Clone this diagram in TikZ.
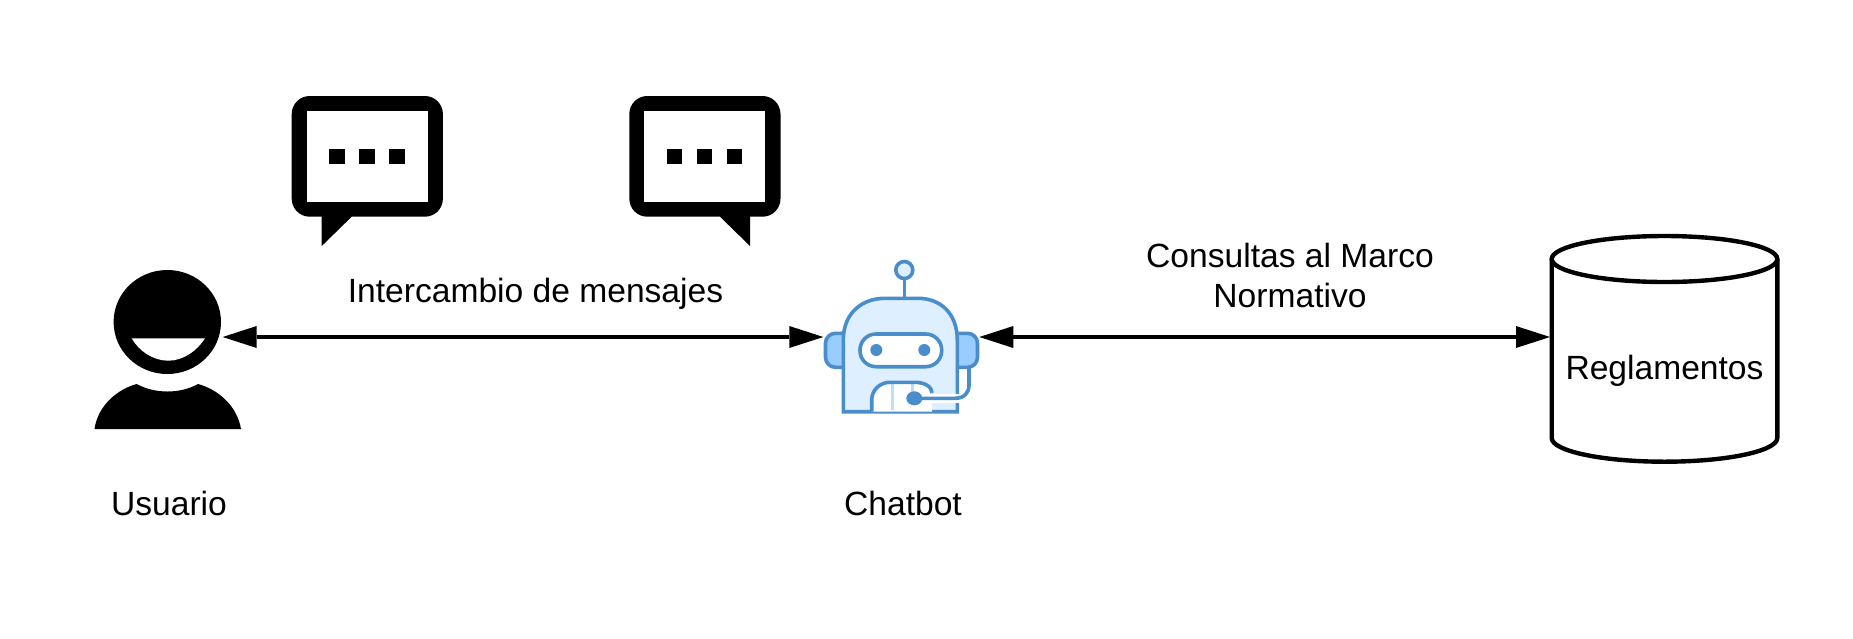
\documentclass[tikz,border=0pt]{standalone}
\usepackage{fontspec}
\setmainfont{Liberation Sans}
\usetikzlibrary{arrows.meta}
\definecolor{botline}{HTML}{4A8DCB}
\definecolor{botfill}{HTML}{DEEFFF}
\definecolor{botear}{HTML}{99CCFF}
\definecolor{botrib}{HTML}{BBDDFF}
\tikzset{
  legenda/.style={font=\fontsize{16.8}{20}\selectfont, inner sep=0pt, align=center},
  marco/.style={inner sep=0pt, outer sep=0pt, minimum height=10pt},
  enlace/.style={line width=2.2pt, {Triangle[length=17pt,width=11pt,line width=0pt]}-{Triangle[length=17pt,width=11pt,line width=0pt]}},
  linhabot/.style={draw=botline, line width=1.8pt},
}
\begin{document}
\begin{tikzpicture}[x=0.5pt,y=-0.5pt]
  \useasboundingbox (0,0) rectangle (1853,638);
  % usuario
  \fill (167.3,322) ellipse (53.7 and 52);
  \fill[white] (131.7,338.3) -- (205,338.3) .. controls (197,351) and (183,360.7) .. (168.3,360.7) .. controls (153,360.7) and (139,351) .. (131.7,338.3) -- cycle;
  \fill (94.5,429) .. controls (98,405) and (118,389) .. (136.7,384) .. controls (155,394) and (180,394) .. (198,384) .. controls (217,389) and (237,405) .. (241,429) -- cycle;
  \node[marco, minimum width=55.4pt] (usuario) at (167.3,337) {};
  % burbujas
  \foreach \bx/\tipa/\tipb/\tipc in {291.7/321.7/321.7/351.7, 629.3/720/750/750}{
    \begin{scope}
      \fill[rounded corners=9pt] (\bx,96) rectangle ++(151.2,120.7);
      \fill[white] (\bx+15,111) rectangle ++(121,90.7);
      \fill (\tipa,215) -- (\tipa,216.7) -- (\tipb,246) -- (\tipc,216.7) -- (\tipc,215) -- cycle;
      \foreach \d in {37.6,67.6,97.6}
        \fill (\bx+\d,148.7) rectangle ++(15.4,15.4);
    \end{scope}
  }
  % chatbot
  \draw[linhabot] (904.3,279) -- (904.3,298.3);
  \draw[linhabot, fill=botfill] (904.3,270) circle (8.5);
  \draw[linhabot, fill=botear, rounded corners=5pt] (855,333.3) -- (825.5,333.3) -- (825.5,367.3) -- (855,367.3);
  \draw[linhabot, fill=botear, rounded corners=5pt] (945,333.3) -- (977.5,333.3) -- (977.5,367.3) -- (945,367.3);
  \draw[linhabot, fill=botfill] (843.3,411.7) -- (843.3,340) .. controls (843.3,313) and (862,298.3) .. (885,298.3) -- (918,298.3) .. controls (940,298.3) and (957.3,313) .. (957.3,340) -- (957.3,411.7) -- cycle;
  \draw[linhabot, fill=white, rounded corners=8pt] (860,334) rectangle (941.7,366.7);
  \fill[botline] (876.3,350) circle (6) (924.3,350) circle (6);
  \fill[white] (871.7,411.7) -- (871.7,400) .. controls (871.7,390) and (880,382.3) .. (890,382.3) -- (915,382.3) .. controls (925,382.3) and (932,387) .. (932,393) -- (932,411.7) -- cycle;
  \draw[line width=1.6pt, botrib] (892.3,383) -- (892.3,410) (912.3,383) -- (912.3,392);
  \draw[linhabot] (871.7,411.7) -- (871.7,400) .. controls (871.7,390) and (880,382.3) .. (890,382.3) -- (915,382.3) .. controls (925,382.3) and (932,387) .. (932,393);
  \fill[white] (925,394) rectangle (967,403);
  \draw[linhabot] (914,398.3) -- (955,398.3) .. controls (964,398.3) and (969,393) .. (969,385) -- (969,368);
  \fill[botline] (914.3,398.3) ellipse (8 and 7);
  \node[marco, minimum width=78pt] (chatbot) at (901.3,337) {};
  % reglamentos
  \draw[line width=2.2pt, line join=round] (1551.7,259) -- (1551.7,438) .. controls (1551.7,451) and (1602,461.7) .. (1664.5,461.7) .. controls (1727,461.7) and (1777.3,451) .. (1777.3,438) -- (1777.3,259);
  \draw[line width=2.2pt] (1664.5,259) ellipse (112.8 and 23);
  \node[marco, minimum width=114.5pt] (banco) at (1664.5,337) {};
  \node[legenda] (reglamentos) at (1664.5,371) {Reglamentos};
  % enlaces
  \draw[enlace] (usuario.east) -- (chatbot.west);
  \draw[enlace] (chatbot.east) -- (banco.west);
  % textos
  \node[legenda] (mensajes) at (535.5,294) {Intercambio de mensajes};
  \node[legenda] (consultas) at (1290,275) {Consultas al Marco\\Normativo};
  \node[legenda] (nomeusuario) at (169,503.5) {Usuario};
  \node[legenda] (nomebot) at (903,503.5) {Chatbot};
\end{tikzpicture}
\end{document}
